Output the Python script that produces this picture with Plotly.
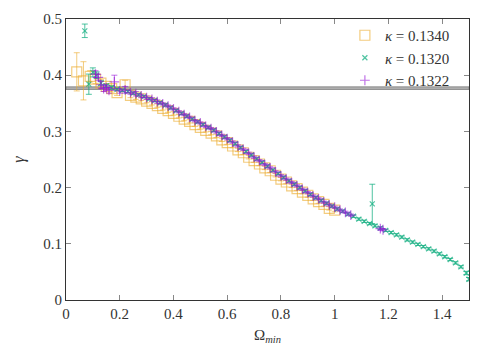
import plotly.graph_objects as go

# kappa = 0.1340 (open squares)
x_k1340 = [0.04, 0.065, 0.09, 0.11, 0.13, 0.15, 0.17, 0.19, 0.22, 0.24, 0.26, 0.28, 0.30, 0.32,
           0.34, 0.36, 0.38, 0.40, 0.42, 0.44, 0.46, 0.48, 0.50, 0.52, 0.54, 0.56, 0.58, 0.60,
           0.62, 0.64, 0.66, 0.68, 0.70, 0.72, 0.74, 0.76, 0.78, 0.80, 0.82, 0.84, 0.86, 0.88,
           0.90, 0.92, 0.94, 0.96, 0.98, 1.00]
y_k1340 = [0.406, 0.390, 0.398, 0.393, 0.386, 0.380, 0.376, 0.369, 0.383, 0.364, 0.361, 0.358, 0.354, 0.350,
           0.346, 0.341, 0.337, 0.332, 0.327, 0.322, 0.318, 0.312, 0.307, 0.302, 0.297, 0.292, 0.285, 0.280,
           0.274, 0.267, 0.262, 0.254, 0.248, 0.242, 0.235, 0.230, 0.222, 0.215, 0.210, 0.203, 0.198, 0.192,
           0.186, 0.180, 0.175, 0.170, 0.163, 0.160]
e_k1340 = [0.034, 0.034, 0.010, 0.008, 0.006, 0.005, 0.006, 0.005, 0.008, 0.004, 0.004, 0.003, 0.003, 0.003,
           0.003, 0.003, 0.003, 0.003, 0.003, 0.003, 0.003, 0.003, 0.003, 0.003, 0.003, 0.003, 0.003, 0.003,
           0.003, 0.003, 0.003, 0.003, 0.003, 0.003, 0.003, 0.003, 0.003, 0.003, 0.003, 0.003, 0.003, 0.003,
           0.003, 0.003, 0.003, 0.003, 0.003, 0.003]

# kappa = 0.1320 (crosses x)
x_k1320 = [0.07, 0.085, 0.10, 0.114, 0.13, 0.15, 0.17, 0.19, 0.21, 0.23, 0.25, 0.27, 0.29, 0.31,
           0.33, 0.35, 0.37, 0.39, 0.41, 0.43, 0.45, 0.47, 0.49, 0.51, 0.53, 0.55, 0.57, 0.59,
           0.61, 0.63, 0.65, 0.67, 0.69, 0.71, 0.73, 0.75, 0.77, 0.79, 0.81, 0.83, 0.85, 0.87,
           0.89, 0.91, 0.93, 0.95, 0.97, 0.99, 1.01, 1.03, 1.05, 1.07, 1.09, 1.11, 1.13, 1.14,
           1.15, 1.17, 1.19, 1.21, 1.23, 1.25, 1.27, 1.29, 1.31, 1.33, 1.35, 1.37, 1.39, 1.41,
           1.43, 1.45, 1.47, 1.49, 1.50]
y_k1320 = [0.479, 0.384, 0.405, 0.400, 0.386, 0.381, 0.378, 0.375, 0.373, 0.371, 0.368, 0.365, 0.362, 0.358,
           0.355, 0.351, 0.347, 0.342, 0.337, 0.332, 0.327, 0.322, 0.317, 0.312, 0.307, 0.302, 0.296, 0.290,
           0.284, 0.278, 0.271, 0.264, 0.258, 0.251, 0.245, 0.238, 0.231, 0.225, 0.218, 0.212, 0.206, 0.200,
           0.194, 0.188, 0.182, 0.177, 0.172, 0.167, 0.162, 0.158, 0.153, 0.149, 0.144, 0.140, 0.136, 0.171,
           0.132, 0.128, 0.124, 0.120, 0.116, 0.112, 0.107, 0.103, 0.099, 0.095, 0.091, 0.087, 0.082, 0.077,
           0.072, 0.066, 0.059, 0.048, 0.037]
e_k1320 = [0.012, 0.018, 0.008, 0.006, 0.004, 0.003, 0.003, 0.002, 0.002, 0.002, 0.002, 0.002, 0.002, 0.002,
           0.002, 0.002, 0.002, 0.002, 0.002, 0.002, 0.002, 0.002, 0.002, 0.002, 0.002, 0.002, 0.002, 0.002,
           0.002, 0.002, 0.002, 0.002, 0.002, 0.002, 0.002, 0.002, 0.002, 0.002, 0.002, 0.002, 0.002, 0.002,
           0.002, 0.002, 0.002, 0.002, 0.002, 0.002, 0.002, 0.002, 0.002, 0.002, 0.002, 0.002, 0.002, 0.035,
           0.002, 0.002, 0.002, 0.002, 0.002, 0.002, 0.002, 0.002, 0.002, 0.002, 0.002, 0.002, 0.002, 0.002,
           0.002, 0.002, 0.002, 0.003, 0.003]

# kappa = 0.1322 (plus)
x_k1322 = [0.11, 0.12, 0.13, 0.14, 0.15, 0.16, 0.18, 0.20, 0.22, 0.24, 0.26, 0.28, 0.30, 0.32,
           0.34, 0.36, 0.38, 0.40, 0.42, 0.44, 0.46, 0.48, 0.50, 0.52, 0.54, 0.56, 0.58, 0.60,
           0.62, 0.64, 0.66, 0.68, 0.70, 0.72, 0.74, 0.76, 0.78, 0.80, 0.82, 0.84, 0.86, 0.88,
           0.90, 0.92, 0.94, 0.96, 0.98, 1.00, 1.02, 1.04, 1.06, 1.17, 1.18]
y_k1322 = [0.402, 0.396, 0.383, 0.376, 0.378, 0.373, 0.388, 0.372, 0.374, 0.369, 0.367, 0.363, 0.360, 0.357,
           0.353, 0.349, 0.345, 0.340, 0.335, 0.330, 0.325, 0.319, 0.315, 0.309, 0.305, 0.299, 0.293, 0.287,
           0.281, 0.274, 0.268, 0.261, 0.254, 0.248, 0.241, 0.235, 0.228, 0.221, 0.215, 0.209, 0.203, 0.197,
           0.191, 0.185, 0.180, 0.174, 0.169, 0.165, 0.160, 0.156, 0.151, 0.127, 0.125]
e_k1322 = [0.006, 0.005, 0.006, 0.005, 0.004, 0.005, 0.012, 0.004, 0.006, 0.003, 0.004, 0.003, 0.003, 0.003,
           0.003, 0.002, 0.002, 0.002, 0.002, 0.002, 0.002, 0.002, 0.002, 0.002, 0.002, 0.002, 0.002, 0.002,
           0.002, 0.002, 0.002, 0.002, 0.002, 0.002, 0.002, 0.002, 0.002, 0.002, 0.002, 0.002, 0.002, 0.002,
           0.002, 0.002, 0.002, 0.002, 0.002, 0.002, 0.002, 0.002, 0.002, 0.003, 0.002]

gamma_ref = 0.377
gamma_ref_err = 0.0022

x_ticks = [0, 0.2, 0.4, 0.6, 0.8, 1.0, 1.2, 1.4]
x_tick_text = ['0', '0.2', '0.4', '0.6', '0.8', '1', '1.2', '1.4']
y_ticks = [0, 0.1, 0.2, 0.3, 0.4, 0.5]
y_tick_text = ['0', '0.1', '0.2', '0.3', '0.4', '0.5']

FONT = 'Liberation Serif'
ORANGE = 'rgba(235,170,40,0.6)'
GREEN = 'rgba(20,175,130,0.75)'
PURPLE = 'rgba(150,20,215,0.6)'

fig = go.Figure()

fig.add_shape(type='rect', xref='x', yref='y', x0=0, x1=1.5,
              y0=gamma_ref - gamma_ref_err, y1=gamma_ref + gamma_ref_err,
              fillcolor='#b4b4b4', line=dict(color='#858585', width=1), layer='below')

fig.add_trace(go.Scatter(
    x=x_k1340, y=y_k1340, mode='markers', name='<i>κ</i> = 0.1340',
    marker=dict(symbol='square-open', size=10, color=ORANGE, line=dict(width=1.2, color=ORANGE)),
    error_y=dict(type='data', array=e_k1340, color=ORANGE, thickness=1, width=3),
))
fig.add_trace(go.Scatter(
    x=x_k1320, y=y_k1320, mode='markers', name='<i>κ</i> = 0.1320',
    marker=dict(symbol='x-thin-open', size=5, color=GREEN, line=dict(width=1.2, color=GREEN)),
    error_y=dict(type='data', array=e_k1320, color=GREEN, thickness=1, width=3),
))
fig.add_trace(go.Scatter(
    x=x_k1322, y=y_k1322, mode='markers', name='<i>κ</i> = 0.1322',
    marker=dict(symbol='cross-thin-open', size=7, color=PURPLE, line=dict(width=1.2, color=PURPLE)),
    error_y=dict(type='data', array=e_k1322, color=PURPLE, thickness=1, width=3),
))

axis_style = dict(showline=True, linecolor='#333', linewidth=1, mirror='ticks', automargin=False,
                  ticks='inside', ticklen=5, tickcolor='#888', showgrid=False, zeroline=False,
                  tickfont=dict(family=FONT, size=15, color='#333'))

fig.update_xaxes(range=[0, 1.5], tickvals=x_ticks, ticktext=x_tick_text,
                 title=dict(text='Ω<sub><i>min</i></sub>', font=dict(family=FONT, size=15, color='#333'), standoff=8),
                 **axis_style)
fig.update_yaxes(range=[0, 0.5], tickvals=y_ticks, ticktext=y_tick_text,
                 title=dict(text='<i>γ</i>', font=dict(family=FONT, size=16, color='#333'), standoff=14),
                 **axis_style)

# page body adds an 8px offset, so the figure is sized/margined to land the plot where the reference has it
fig.update_layout(
    width=490, height=342,
    margin=dict(l=58, r=29, t=11, b=50),
    plot_bgcolor='white', paper_bgcolor='white',
    font=dict(family=FONT, size=15, color='#333'),
    legend=dict(x=0.965, y=1.0, xanchor='right', yanchor='top', bgcolor='rgba(0,0,0,0)',
                font=dict(family=FONT, size=15, color='#333'), tracegroupgap=0),
    showlegend=True,
)

fig.write_html('out.html')
